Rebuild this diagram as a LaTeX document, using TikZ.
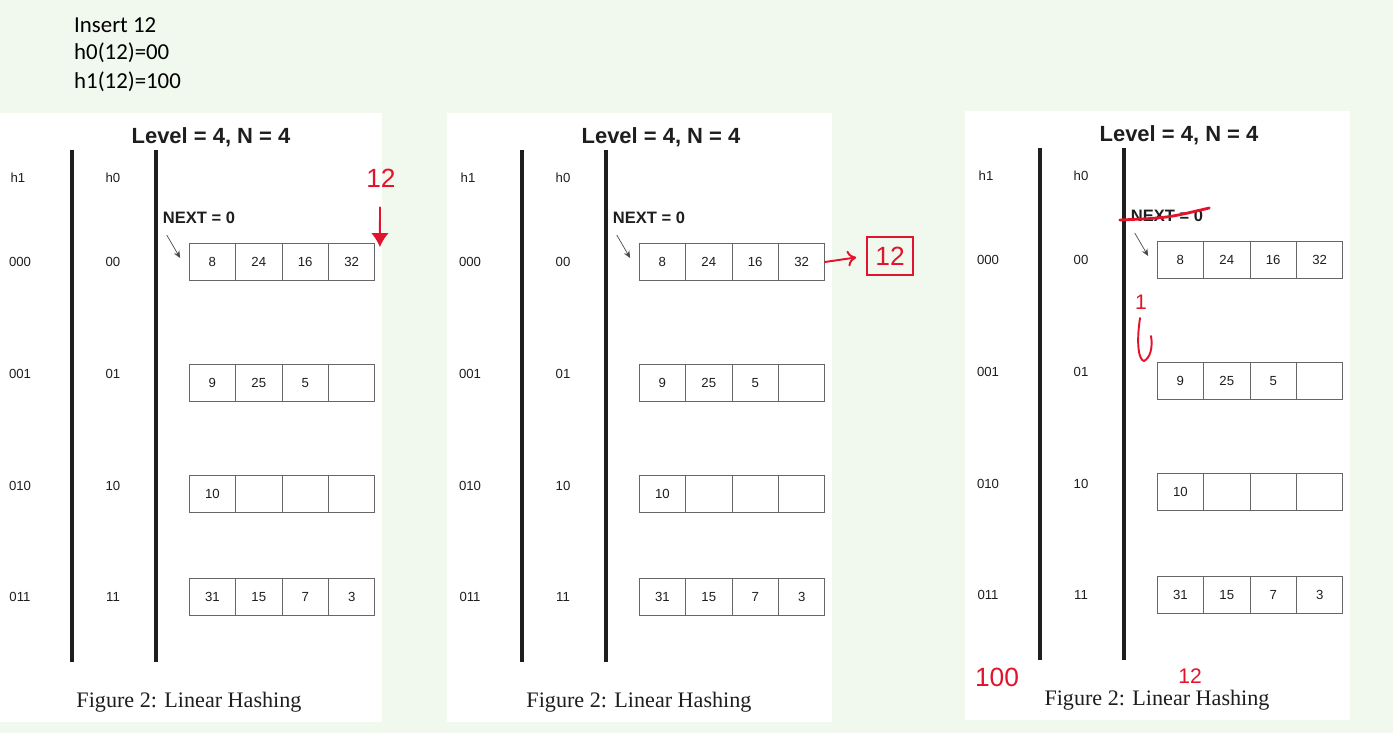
\documentclass[tikz,border=0pt]{standalone}
\usepackage{fontspec}
\setmainfont{Liberation Serif}
\setsansfont{Liberation Sans}
\newfontfamily\calfont{Carlito}
\usetikzlibrary{shapes,
                arrows.meta,
                calc,
                positioning}
\definecolor{pagebg}{HTML}{F1F8EE}
\definecolor{ink}{HTML}{1E1E1E}
\definecolor{redink}{HTML}{E2142D}
\newcommand\bslot[1]{\makebox[0.915cm]{#1}}
\tikzset{bucket/.style =
   {rectangle split,
    rectangle split parts=4,
    rectangle split horizontal,
    draw=black!60,
    inner xsep=0pt,
    text centered,
    text=ink,
    minimum height=0.74cm,
    font=\sffamily\fontsize{7.5}{9}\selectfont}}
\tikzset{small/.style = {font=\sffamily\fontsize{7.5}{9}\selectfont, text=ink}}
\tikzset{rule/.style = {line width=2.2pt, draw=ink}}
\tikzset{ptr/.style = {draw=ink!80, thin, -{Stealth[length=4pt,width=3.5pt]}}}
\tikzset{redpen/.style = {draw=redink, line width=1.1pt, line cap=round}}
\tikzset{scrawl/.style = {text=redink, font=\sffamily\fontsize{#1}{#1}\selectfont}}

\begin{document}
\begin{tikzpicture}[x=0.02cm, y=-0.02cm]

    \fill[pagebg] (0,0) rectangle (1393,733);
    \useasboundingbox (0,0) rectangle (1393,733);

    % the question
    \node [anchor=west, font=\calfont\fontsize{13}{15}\selectfont] (ins)   at (68,25) {Insert 12};
    \node [anchor=west, font=\calfont\fontsize{13}{15}\selectfont] (hzero) at (68,53) {h0(12)=00};
    \node [anchor=west, font=\calfont\fontsize{13}{15}\selectfont] (hone)  at (68,82) {h1(12)=100};

    % three copies of the figure
    \foreach \p/\dx/\dy in {a/0/0, b/450/0, c/968/-2} {
    \begin{scope}[shift={(\dx,\dy)}]
        \fill[white] (-3,113) rectangle (382,722);

        \node [font=\sffamily\bfseries\fontsize{12.5}{15}\selectfont, text=ink] (title\p) at (211,137) {Level = 4, N = 4};
        \node [small] (hcol\p) at (18,178) {h1};
        \node [small] (gcol\p) at (113,178) {h0};
        \draw [rule] (72,150) -- (72,662);
        \draw [rule] (156,150) -- (156,662);
        \node [font=\sffamily\bfseries\fontsize{9.4}{11}\selectfont, text=ink] (next\p) at (199,218) {NEXT = 0};

        \foreach \rw/\y/\ly/\hi/\ho/\va/\vb/\vc/\vd in
            {1/262/262/000/00/8/24/16/32,
             2/383/374/001/01/9/25/5/{},
             3/494/486/010/10/10/{}/{}/{},
             4/597/597/011/11/31/15/7/3} {
            \node [small] (hi\p\rw) at (20,\ly) {\hi};
            \node [small] (ho\p\rw) at (113,\ly) {\ho};
            \node [bucket] (bk\p\rw) at (282,\y)
            {\nodepart{one}   \bslot{\va}
             \nodepart{two}   \bslot{\vb}
             \nodepart{three} \bslot{\vc}
             \nodepart{four}  \bslot{\vd}};
        }

        \draw [ptr] ($(next\p.south west)+(10,5)$) -- ($(bk\p1.west)+(-9,-4)$);

        \node [font=\fontsize{12.6}{15}\selectfont, text=ink] (cap\p) at (189,702) {Figure 2: Linear Hashing};
    \end{scope}
    }

    % red pen notes
    \node [scrawl=15] (ntwelvea) at (381,178) {12};
    \draw [redpen, -{Latex[length=8pt,width=10pt]}] ($(ntwelvea.south)+(-1,14)$) -- ($(bka1.north east)+(5,4)$);

    \node [scrawl=15, draw=redink, line width=1.1pt, minimum width=0.92cm, minimum height=0.76cm] (ntwelveb) at (890,256) {12};
    \draw [redpen, -{To[length=5pt,width=9pt]}, shorten >=0.2cm] (bkb1.east) -- (ntwelveb.west);

    \draw [redpen, line width=1.6pt] ($(nextc.west)+(-5,4)$) .. controls ($(nextc.center)+(0,2)$) .. ($(nextc.east)+(0,-8)$);
    \node [scrawl=12] (none) at (1141,302) {1};
    \draw [redpen] (1140,318) .. controls (1136,345) and (1139,360) .. (1144,361)
                   .. controls (1150,358) and (1153,348) .. (1151,336);
    \node [scrawl=15] (nhundred) at (997,677) {100};
    \node [scrawl=12] (ntwelvec) at (1190,676) {12};

\end{tikzpicture}
\end{document}
